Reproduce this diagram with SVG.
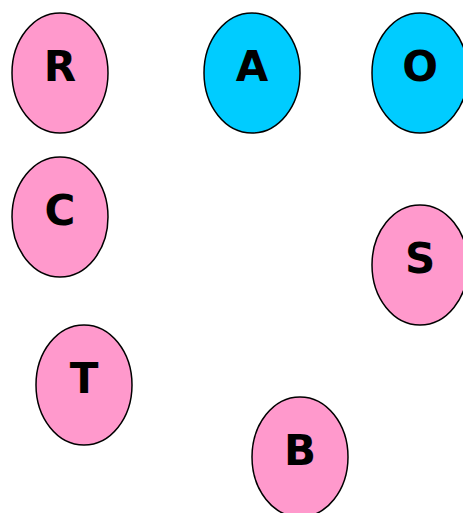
<svg xmlns="http://www.w3.org/2000/svg" width="463" height="513" viewBox="0 0 463 513">
<style>
.n ellipse{stroke:#000;stroke-width:1.5}
.p{fill:#FF99CC}
.c{fill:#00CCFF}
.n text{font-family:"DejaVu Sans",sans-serif;font-weight:bold;font-size:42px;text-anchor:middle;fill:#000}
</style>
<rect width="463" height="513" fill="#fff"/>
<g id="connectors"/>
<g id="R" class="n"><ellipse class="p" cx="60" cy="73" rx="48" ry="60"/><text x="60" y="81">R</text></g>
<g id="A" class="n"><ellipse class="c" cx="252" cy="73" rx="48" ry="60"/><text x="252" y="81">A</text></g>
<g id="O" class="n"><ellipse class="c" cx="420" cy="73" rx="48" ry="60"/><text x="420" y="81">O</text></g>
<g id="C" class="n"><ellipse class="p" cx="60" cy="217" rx="48" ry="60"/><text x="60" y="225">C</text></g>
<g id="S" class="n"><ellipse class="p" cx="420" cy="265" rx="48" ry="60"/><text x="420" y="273">S</text></g>
<g id="T" class="n"><ellipse class="p" cx="84" cy="385" rx="48" ry="60"/><text x="84" y="393">T</text></g>
<g id="B" class="n"><ellipse class="p" cx="300" cy="457" rx="48" ry="60"/><text x="300" y="465">B</text></g>
</svg>
